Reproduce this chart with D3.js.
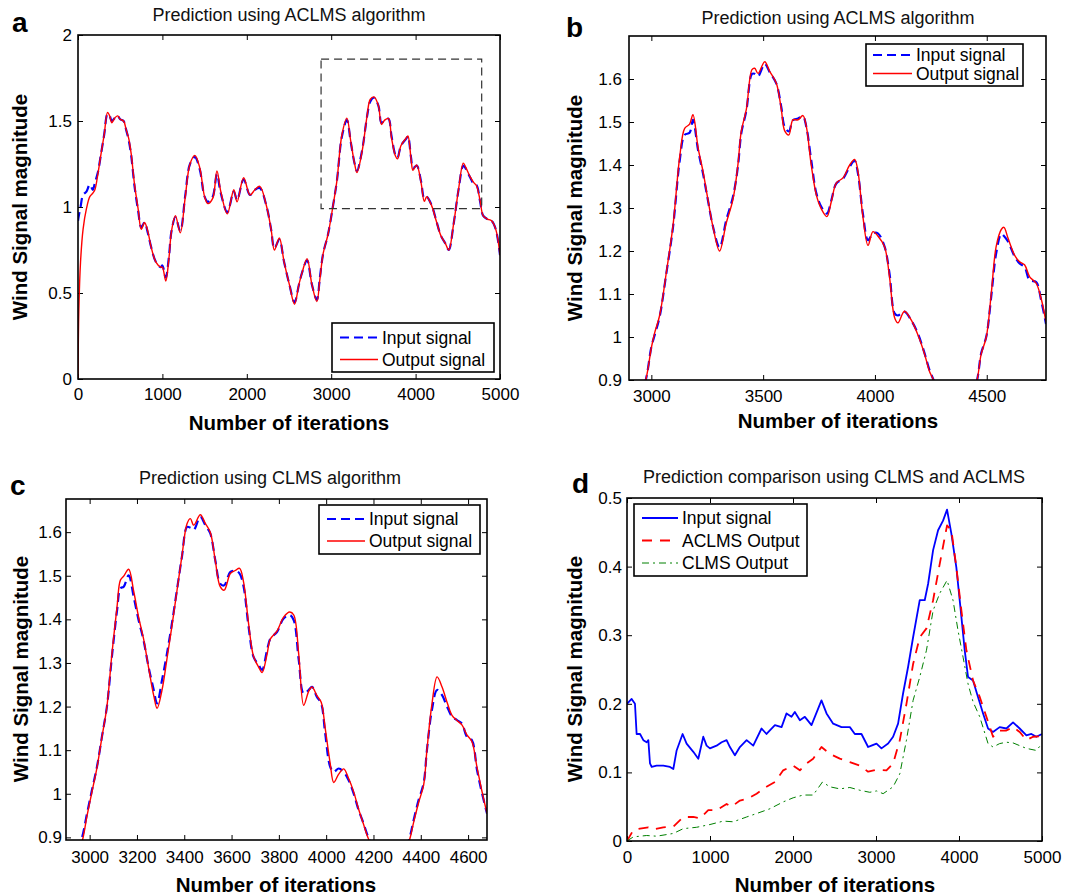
<!DOCTYPE html>
<html><head><meta charset="utf-8">
<script src="https://cdn.jsdelivr.net/npm/d3@7"></script>
<style>
body{margin:0;background:#fff}
svg{display:block}
text{font-family:"Liberation Sans",Arial,Helvetica,sans-serif}
</style>
</head><body>
<svg id="chart" width="1089" height="896"></svg>
<script>
// ---------------- DATA ----------------
const legendLabels = ["Input signal", "Output signal"];
const dLegendLabels = ["Input signal", "ACLMS Output", "CLMS Output"];

// Panel a : ACLMS, full range
const aIter = [0,10,30,60,100,140,175,200,235,270,310,350,375,400,440,470,500,540,570,600,630,670,712,750,788,827,865,923,981,1000,1040,1077,1108,1154,1212,1269,1327,1385,1442,1500,1538,1596,1646,1692,1769,1846,1885,1962,2038,2096,2154,2231,2288,2327,2385,2442,2504,2565,2618,2656,2714,2771,2830,2866,2905,2962,3019,3067,3127,3186,3231,3276,3305,3365,3425,3462,3507,3559,3596,3633,3678,3715,3760,3785,3827,3887,3909,3946,3969,4013,4065,4103,4132,4192,4244,4298,4355,4393,4450,4508,4565,4595,4647,4692,4721,4765,4800,4850,4900,4950,5000];
const aInput = [0.92,0.95,1.00,1.07,1.09,1.13,1.10,1.14,1.20,1.30,1.42,1.54,1.53,1.50,1.52,1.53,1.51,1.50,1.45,1.39,1.30,1.12,0.98,0.88,0.91,0.85,0.77,0.68,0.65,0.66,0.59,0.71,0.86,0.94,0.86,1.06,1.25,1.29,1.22,1.06,1.03,1.06,1.19,1.08,0.97,1.09,1.04,1.16,1.07,1.10,1.11,1.01,0.87,0.76,0.81,0.68,0.55,0.445,0.55,0.62,0.69,0.55,0.46,0.59,0.73,0.84,1.00,1.15,1.41,1.505,1.38,1.256,1.21,1.326,1.527,1.612,1.635,1.589,1.489,1.504,1.513,1.411,1.303,1.287,1.357,1.396,1.41,1.287,1.225,1.241,1.148,1.05,1.059,1.008,0.923,0.835,0.786,0.75,0.90,1.098,1.24,1.222,1.171,1.132,1.128,1.03,0.95,0.93,0.92,0.87,0.72];
const aOutput = [0.00,0.40,0.68,0.87,0.99,1.06,1.08,1.10,1.19,1.30,1.42,1.55,1.53,1.49,1.52,1.53,1.51,1.50,1.45,1.40,1.31,1.13,0.99,0.87,0.91,0.86,0.77,0.68,0.65,0.65,0.57,0.70,0.86,0.95,0.85,1.05,1.25,1.30,1.23,1.06,1.02,1.05,1.21,1.09,0.96,1.10,1.03,1.17,1.07,1.10,1.12,1.01,0.87,0.75,0.82,0.68,0.55,0.435,0.55,0.62,0.70,0.55,0.45,0.58,0.73,0.84,1.00,1.15,1.42,1.517,1.385,1.255,1.20,1.32,1.53,1.625,1.64,1.59,1.48,1.505,1.515,1.40,1.298,1.28,1.358,1.40,1.413,1.28,1.213,1.245,1.14,1.033,1.06,1.005,0.92,0.835,0.786,0.75,0.90,1.10,1.255,1.23,1.175,1.14,1.125,1.035,0.95,0.93,0.92,0.87,0.72];
const aZoomBox = [2880, 4783, 0.99, 1.86];
const aXTicks = [0,1000,2000,3000,4000,5000];
const aYTicks = [0,0.5,1,1.5,2];

// Panel b : ACLMS, zoomed
const bIter = [2930,2975,3000,3015,3037,3067,3097,3127,3149,3171,3186,3209,3231,3253,3276,3305,3335,3365,3387,3402,3425,3450,3462,3477,3507,3529,3559,3581,3596,3615,3633,3656,3678,3693,3715,3738,3760,3785,3805,3827,3857,3887,3909,3924,3946,3969,3991,4013,4043,4065,4088,4103,4132,4162,4192,4222,4244,4262,4320,4390,4457,4475,4498,4520,4542,4565,4577,4595,4625,4647,4669,4692,4721,4743,4765];
const bInput = [0.83,0.90,0.977,1.005,1.047,1.148,1.256,1.411,1.470,1.475,1.505,1.434,1.380,1.318,1.256,1.208,1.272,1.326,1.396,1.473,1.527,1.612,1.612,1.606,1.635,1.616,1.589,1.535,1.489,1.478,1.504,1.508,1.513,1.489,1.411,1.334,1.303,1.287,1.318,1.357,1.368,1.396,1.410,1.380,1.287,1.225,1.241,1.241,1.210,1.148,1.055,1.050,1.059,1.039,1.008,0.962,0.923,0.900,0.810,0.770,0.900,0.962,1.001,1.094,1.194,1.240,1.235,1.222,1.187,1.171,1.163,1.132,1.128,1.086,1.030];
const bOutput = [0.83,0.90,0.975,1.010,1.050,1.150,1.260,1.420,1.485,1.495,1.517,1.440,1.385,1.320,1.255,1.200,1.265,1.320,1.400,1.478,1.530,1.622,1.625,1.613,1.640,1.618,1.590,1.530,1.480,1.470,1.505,1.505,1.515,1.490,1.400,1.330,1.298,1.280,1.315,1.358,1.370,1.400,1.413,1.385,1.280,1.213,1.245,1.235,1.210,1.140,1.045,1.033,1.060,1.040,1.005,0.960,0.920,0.900,0.810,0.770,0.900,0.960,1.000,1.100,1.210,1.250,1.255,1.230,1.190,1.175,1.168,1.140,1.125,1.090,1.035];
const bXTicks = [3000,3500,4000,4500];
const bYTicks = [0.9,1,1.1,1.2,1.3,1.4,1.5,1.6];

// Panel c : CLMS, zoomed
const cIter = [2930,2968,2989,3010,3031,3052,3073,3094,3116,3130,3144,3165,3186,3207,3228,3249,3271,3285,3306,3327,3348,3369,3390,3412,3426,3440,3468,3489,3510,3531,3552,3569,3595,3616,3634,3651,3672,3693,3715,3729,3750,3764,3792,3820,3846,3863,3884,3905,3926,3940,3961,3979,3996,4017,4032,4053,4074,4095,4116,4137,4158,4180,4230,4290,4353,4370,4391,4412,4426,4447,4469,4490,4511,4532,4553,4574,4595,4616,4638,4659,4680];
const cInput = [0.84,0.90,0.955,1.009,1.062,1.131,1.20,1.314,1.421,1.471,1.475,1.501,1.452,1.398,1.352,1.291,1.238,1.207,1.261,1.322,1.391,1.467,1.543,1.612,1.61,1.605,1.635,1.616,1.597,1.536,1.482,1.478,1.509,1.511,1.505,1.475,1.383,1.314,1.295,1.284,1.329,1.356,1.371,1.402,1.410,1.398,1.307,1.23,1.238,1.245,1.222,1.207,1.138,1.062,1.05,1.058,1.05,1.031,1.001,0.963,0.932,0.898,0.85,0.80,0.90,0.94,0.986,1.024,1.10,1.192,1.238,1.226,1.20,1.177,1.169,1.161,1.131,1.123,1.054,1.001,0.955];
const cOutput = [0.83,0.89,0.95,1.005,1.06,1.13,1.20,1.32,1.43,1.49,1.499,1.515,1.465,1.405,1.355,1.29,1.225,1.196,1.238,1.31,1.385,1.465,1.545,1.62,1.631,1.616,1.640,1.62,1.60,1.535,1.475,1.467,1.505,1.512,1.517,1.485,1.39,1.315,1.29,1.278,1.32,1.355,1.373,1.405,1.417,1.41,1.32,1.203,1.235,1.245,1.225,1.21,1.15,1.07,1.026,1.045,1.057,1.035,1.005,0.965,0.93,0.895,0.85,0.80,0.895,0.935,0.98,1.02,1.10,1.205,1.268,1.245,1.21,1.18,1.168,1.158,1.135,1.12,1.06,1.005,0.955];
const cXTicks = [3000,3200,3400,3600,3800,4000,4200,4400,4600];
const cYTicks = [0.9,1,1.1,1.2,1.3,1.4,1.5,1.6];

// Panel d : comparison
const dInIter = [0,56,96,116,157,197,237,257,277,297,357,437,518,558,598,670,718,799,859,919,959,999,1079,1140,1200,1240,1300,1360,1441,1521,1621,1681,1782,1862,1922,1982,2022,2083,2143,2223,2263,2343,2404,2484,2584,2685,2745,2825,2905,2945,3006,3066,3146,3206,3266,3326,3387,3447,3527,3587,3628,3688,3748,3808,3856,3908,3968,4017,4069,4109,4169,4229,4290,4350,4410,4490,4571,4651,4731,4812,4872,4932,5000];
const dInput = [0.200,0.207,0.200,0.156,0.156,0.147,0.144,0.147,0.113,0.108,0.110,0.110,0.108,0.105,0.132,0.156,0.142,0.130,0.120,0.152,0.139,0.135,0.139,0.144,0.147,0.137,0.125,0.137,0.147,0.139,0.164,0.156,0.169,0.166,0.186,0.181,0.188,0.176,0.181,0.169,0.181,0.205,0.186,0.171,0.166,0.166,0.156,0.156,0.137,0.139,0.142,0.135,0.142,0.152,0.171,0.215,0.254,0.297,0.351,0.351,0.375,0.424,0.453,0.467,0.483,0.448,0.399,0.341,0.278,0.239,0.234,0.210,0.186,0.164,0.159,0.166,0.164,0.173,0.164,0.154,0.156,0.152,0.156];
const dAclmsIter = [0,76,157,257,317,437,558,678,799,879,979,1079,1200,1260,1360,1461,1561,1681,1782,1882,2002,2083,2163,2243,2343,2444,2564,2685,2805,2905,3006,3126,3206,3287,3367,3447,3527,3608,3688,3768,3856,3908,3968,4029,4089,4169,4250,4330,4410,4490,4571,4651,4731,4812,4892,5000];
const dAclms = [0,0.016,0.018,0.020,0.017,0.020,0.021,0.035,0.035,0.033,0.045,0.045,0.054,0.050,0.059,0.062,0.069,0.079,0.086,0.103,0.110,0.103,0.113,0.120,0.137,0.127,0.120,0.115,0.110,0.101,0.104,0.103,0.113,0.147,0.200,0.258,0.297,0.310,0.351,0.404,0.460,0.453,0.399,0.336,0.278,0.234,0.210,0.181,0.152,0.161,0.161,0.166,0.159,0.147,0.152,0.153];
const dClmsIter = [0,76,237,357,558,678,839,999,1160,1280,1441,1561,1722,1882,2002,2123,2243,2355,2444,2564,2685,2805,2925,3006,3086,3206,3287,3367,3447,3527,3608,3688,3768,3856,3928,3988,4049,4109,4169,4250,4350,4410,4490,4571,4651,4731,4812,4932,5000];
const dClms = [0,0.006,0.008,0.007,0.011,0.018,0.020,0.024,0.029,0.028,0.035,0.040,0.047,0.057,0.063,0.067,0.067,0.086,0.079,0.076,0.078,0.074,0.071,0.073,0.069,0.079,0.098,0.147,0.205,0.239,0.278,0.336,0.361,0.380,0.351,0.307,0.268,0.229,0.203,0.181,0.142,0.137,0.142,0.144,0.143,0.139,0.135,0.132,0.142];
const dXTicks = [0,1000,2000,3000,4000,5000];
const dYTicks = [0,0.1,0.2,0.3,0.4,0.5];

// ---------------- DRAWING ----------------
const svg = d3.select("#chart");
const FONT = '"Liberation Sans",Arial,Helvetica,sans-serif';
const smooth = d3.curveCatmullRom.alpha(0.5);
const BLUE = "#0000ff", RED = "#ff0000", GREEN = "#008000";

function drawPanel(p) {
  const b = p.box;
  const x = d3.scaleLinear().domain(p.xDomain).range([b.x0, b.x1]);
  const y = d3.scaleLinear().domain(p.yDomain).range([b.y1, b.y0]);
  const g = svg.append("g");
  const clipId = "clip-" + p.id;
  svg.append("defs").append("clipPath").attr("id", clipId)
    .append("rect").attr("x", b.x0).attr("y", b.y0)
    .attr("width", b.x1 - b.x0).attr("height", b.y1 - b.y0);

  const fmt = d => String(d);
  const styleAxis = sel => {
    sel.select(".domain").remove();
    sel.attr("font-size", 17).attr("font-family", FONT);
    sel.selectAll(".tick line").attr("stroke", "#000").attr("stroke-width", 1);
    sel.selectAll(".tick text").attr("fill", "#000");
  };
  g.append("g").attr("transform", `translate(0,${b.y1})`)
    .call(d3.axisBottom(x).tickValues(p.xTicks).tickFormat(fmt).tickSizeInner(-5).tickSizeOuter(0).tickPadding(p.xPad))
    .call(styleAxis);
  g.append("g").attr("transform", `translate(0,${b.y0})`)
    .call(d3.axisTop(x).tickValues(p.xTicks).tickFormat("").tickSizeInner(-5).tickSizeOuter(0))
    .call(styleAxis);
  g.append("g").attr("transform", `translate(${b.x0},0)`)
    .call(d3.axisLeft(y).tickValues(p.yTicks).tickFormat(fmt).tickSizeInner(-5).tickSizeOuter(0).tickPadding(p.yPad))
    .call(styleAxis);
  g.append("g").attr("transform", `translate(${b.x1},0)`)
    .call(d3.axisRight(y).tickValues(p.yTicks).tickFormat("").tickSizeInner(-5).tickSizeOuter(0))
    .call(styleAxis);

  // series
  const lines = g.append("g").attr("clip-path", `url(#${clipId})`);
  p.series.forEach(s => {
    const data = s.xs.map((v, i) => [v, s.ys[i]]);
    const line = d3.line().x(d => x(d[0])).y(d => y(d[1])).curve(s.curve || d3.curveLinear);
    lines.append("path").attr("d", line(data)).attr("fill", "none")
      .attr("stroke", s.color).attr("stroke-width", s.width)
      .attr("stroke-dasharray", s.dash || null)
      .attr("stroke-linejoin", "round");
  });

  if (p.zoomBox) {
    const z = p.zoomBox;
    g.append("rect").attr("x", x(z[0])).attr("y", y(z[3]))
      .attr("width", x(z[1]) - x(z[0])).attr("height", y(z[2]) - y(z[3]))
      .attr("fill", "none").attr("stroke", "#333").attr("stroke-width", 1.2)
      .attr("stroke-dasharray", "8,5");
  }

  // frame
  g.append("rect").attr("x", b.x0).attr("y", b.y0).attr("width", b.x1 - b.x0).attr("height", b.y1 - b.y0)
    .attr("fill", "none").attr("stroke", "#000").attr("stroke-width", 1.6);

  // legend
  const L = p.legend;
  const lg = g.append("g");
  lg.append("rect").attr("x", L.x0).attr("y", L.y0).attr("width", L.x1 - L.x0).attr("height", L.y1 - L.y0)
    .attr("fill", "#fff").attr("stroke", "#000").attr("stroke-width", 1.6);
  L.rows.forEach((r, i) => {
    const s = p.series[i];
    lg.append("line").attr("x1", L.lx0).attr("x2", L.lx1).attr("y1", r).attr("y2", r)
      .attr("stroke", s.color).attr("stroke-width", s.width).attr("stroke-dasharray", s.dash || null);
    lg.append("text").attr("x", L.tx).attr("y", r + L.tdy).attr("font-size", 17.5)
      .attr("fill", "#000").text(p.labels[i]);
  });

  // titles and labels
  g.append("text").attr("x", p.title.x).attr("y", p.title.y).attr("text-anchor", "middle")
    .attr("font-size", 18).attr("fill", "#111").text(p.title.text);
  g.append("text").attr("x", p.xLabel.x).attr("y", p.xLabel.y).attr("text-anchor", "middle")
    .attr("font-size", 20.5).attr("font-weight", "bold").text("Number of iterations");
  g.append("text").attr("transform", `translate(${p.yLabel.x},${p.yLabel.y}) rotate(-90)`)
    .attr("text-anchor", "middle").attr("font-size", 20.5).attr("font-weight", "bold")
    .text("Wind Signal magnitude");
  g.append("text").attr("x", p.letter.x).attr("y", p.letter.y).attr("font-size", 28)
    .attr("font-weight", "bold").text(p.letter.text);
}

drawPanel({
  id: "a", box: {x0: 78, x1: 500, y0: 35, y1: 379},
  xDomain: [0, 5000], yDomain: [0, 2], xTicks: aXTicks, yTicks: aYTicks, xPad: 9, yPad: 6,
  series: [
    {xs: aIter, ys: aInput, color: BLUE, width: 2.2, dash: "9,5", curve: smooth},
    {xs: aIter, ys: aOutput, color: RED, width: 1.4, curve: smooth}
  ],
  labels: legendLabels, zoomBox: aZoomBox,
  legend: {x0: 332, x1: 494, y0: 323, y1: 372, rows: [337.5, 359.5], lx0: 340, lx1: 378, tx: 382, tdy: 6},
  title: {x: 289, y: 21, text: "Prediction using ACLMS algorithm"},
  xLabel: {x: 289, y: 430}, yLabel: {x: 27, y: 207}, letter: {x: 12, y: 32, text: "a"}
});

drawPanel({
  id: "b", box: {x0: 629, x1: 1046, y0: 36, y1: 380},
  xDomain: [2900, 4765], yDomain: [0.9, 1.7], xTicks: bXTicks, yTicks: bYTicks, xPad: 10, yPad: 7,
  series: [
    {xs: bIter, ys: bInput, color: BLUE, width: 2.2, dash: "9,5", curve: smooth},
    {xs: bIter, ys: bOutput, color: RED, width: 1.4, curve: smooth}
  ],
  labels: legendLabels,
  legend: {x0: 866, x1: 1023, y0: 44, y1: 86, rows: [55, 73.5], lx0: 873, lx1: 912, tx: 916, tdy: 6},
  title: {x: 838, y: 24, text: "Prediction using ACLMS algorithm"},
  xLabel: {x: 838, y: 428}, yLabel: {x: 582, y: 208}, letter: {x: 566, y: 37, text: "b"}
});

drawPanel({
  id: "c", box: {x0: 66, x1: 487, y0: 499, y1: 840},
  xDomain: [2900, 4680], yDomain: [0.894, 1.676], xTicks: cXTicks, yTicks: cYTicks, xPad: 11, yPad: 4,
  series: [
    {xs: cIter, ys: cInput, color: BLUE, width: 2.2, dash: "9,5", curve: smooth},
    {xs: cIter, ys: cOutput, color: RED, width: 1.4, curve: smooth}
  ],
  labels: legendLabels,
  legend: {x0: 319, x1: 480, y0: 505, y1: 554, rows: [519, 541], lx0: 327, lx1: 365, tx: 369, tdy: 6},
  title: {x: 270, y: 484, text: "Prediction using CLMS algorithm"},
  xLabel: {x: 276, y: 892}, yLabel: {x: 28, y: 669}, letter: {x: 10, y: 495, text: "c"}
});

drawPanel({
  id: "d", box: {x0: 627, x1: 1042, y0: 498, y1: 841},
  xDomain: [0, 5000], yDomain: [0, 0.5], xTicks: dXTicks, yTicks: dYTicks, xPad: 10, yPad: 5,
  series: [
    {xs: dInIter, ys: dInput, color: BLUE, width: 1.8},
    {xs: dAclmsIter, ys: dAclms, color: RED, width: 1.8, dash: "10,8"},
    {xs: dClmsIter, ys: dClms, color: GREEN, width: 1, dash: "7,4,2,4"}
  ],
  labels: dLegendLabels,
  legend: {x0: 634, x1: 807, y0: 504, y1: 576, rows: [518, 540.5, 563], lx0: 642, lx1: 678, tx: 682, tdy: 6},
  title: {x: 834, y: 483, text: "Prediction comparison using CLMS and ACLMS"},
  xLabel: {x: 835, y: 892}, yLabel: {x: 582, y: 669}, letter: {x: 572, y: 493, text: "d"}
});
</script>
</body></html>
